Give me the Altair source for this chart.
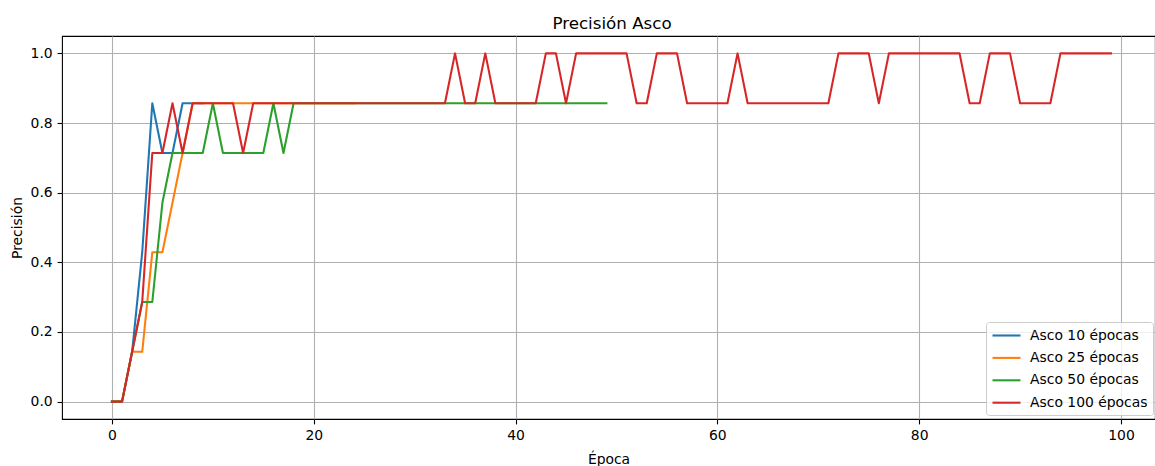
import altair as alt
import pandas as pd

series_names = ["Asco 10 épocas", "Asco 25 épocas", "Asco 50 épocas", "Asco 100 épocas"]
series_colors = ["#1f77b4", "#ff7f0e", "#2ca02c", "#d62728"]

acc_10 = [0.0, 0.0, 0.143, 0.429, 0.857, 0.714, 0.714, 0.857, 0.857, 0.857]

acc_25 = [0.0, 0.0, 0.143, 0.143, 0.429, 0.429, 0.571, 0.714, 0.857, 0.857,
          0.857, 0.857, 0.857, 0.857, 0.857, 0.857, 0.857, 0.857, 0.857, 0.857,
          0.857, 0.857, 0.857, 0.857, 0.857]

acc_50 = [0.0, 0.0, 0.143, 0.286, 0.286, 0.571, 0.714, 0.714, 0.714, 0.714,
          0.857, 0.714, 0.714, 0.714, 0.714, 0.714, 0.857, 0.714, 0.857, 0.857,
          0.857, 0.857, 0.857, 0.857, 0.857, 0.857, 0.857, 0.857, 0.857, 0.857,
          0.857, 0.857, 0.857, 0.857, 0.857, 0.857, 0.857, 0.857, 0.857, 0.857,
          0.857, 0.857, 0.857, 0.857, 0.857, 0.857, 0.857, 0.857, 0.857, 0.857]

acc_100 = [0.0, 0.0, 0.143, 0.286, 0.714, 0.714, 0.857, 0.714, 0.857, 0.857,
           0.857, 0.857, 0.857, 0.714, 0.857, 0.857, 0.857, 0.857, 0.857, 0.857,
           0.857, 0.857, 0.857, 0.857, 0.857, 0.857, 0.857, 0.857, 0.857, 0.857,
           0.857, 0.857, 0.857, 0.857, 1.0, 0.857, 0.857, 1.0, 0.857, 0.857,
           0.857, 0.857, 0.857, 1.0, 1.0, 0.857, 1.0, 1.0, 1.0, 1.0,
           1.0, 1.0, 0.857, 0.857, 1.0, 1.0, 1.0, 0.857, 0.857, 0.857,
           0.857, 0.857, 1.0, 0.857, 0.857, 0.857, 0.857, 0.857, 0.857, 0.857,
           0.857, 0.857, 1.0, 1.0, 1.0, 1.0, 0.857, 1.0, 1.0, 1.0,
           1.0, 1.0, 1.0, 1.0, 1.0, 0.857, 0.857, 1.0, 1.0, 1.0,
           0.857, 0.857, 0.857, 0.857, 1.0, 1.0, 1.0, 1.0, 1.0, 1.0]

x_ticks = [0, 20, 40, 60, 80, 100]
y_ticks = [0.0, 0.2, 0.4, 0.6, 0.8, 1.0]

rows = []
for k, (name, vals) in enumerate(zip(series_names, [acc_10, acc_25, acc_50, acc_100])):
    for i, v in enumerate(vals):
        rows.append({"serie": name, "epoca": i, "precision": v, "orden": k})
df = pd.DataFrame(rows)

FONT = "DejaVu Sans"

chart = alt.Chart(df).mark_line(strokeWidth=2.08, strokeJoin="round", strokeCap="square").encode(
    x=alt.X("epoca:Q",
            scale=alt.Scale(domain=[-4.95, 103.37], nice=False, zero=False),
            axis=alt.Axis(values=x_ticks, title="Época", format="d")),
    y=alt.Y("precision:Q",
            scale=alt.Scale(domain=[-0.05, 1.05], nice=False, zero=False),
            axis=alt.Axis(values=y_ticks, title="Precisión", format=".1f")),
    color=alt.Color("serie:N",
                    scale=alt.Scale(domain=series_names, range=series_colors),
                    legend=alt.Legend(title=None, orient="none", legendX=924, legendY=286,
                                      padding=5, rowPadding=6.4,
                                      symbolType="M-1,0L3,0", symbolSize=196,
                                      symbolStrokeWidth=2.08, labelOffset=22,
                                      labelFont=FONT, labelFontSize=13.9, labelColor="black",
                                      fillColor="rgba(255,255,255,0.8)", strokeColor="#cccccc",
                                      cornerRadius=3)),
    order=alt.Order("epoca:Q"),
    detail="orden:O",
).properties(
    width=1093,
    height=383,
    padding={"left": 62, "top": 36, "right": 0, "bottom": 47},
    autosize=alt.AutoSizeParams(type="none"),
    title=alt.TitleParams("Precisión Asco", font=FONT, fontSize=16.7, fontWeight="normal",
                          color="black", anchor="middle", dx=3.5, dy=18, offset=8,
                          baseline="alphabetic"),
).configure_view(
    stroke="black", strokeWidth=1.1
).configure_axis(
    domain=False,
    grid=True, gridColor="#b0b0b0", gridWidth=1.1,
    ticks=True, tickColor="black", tickSize=4.9, tickWidth=1.1,
    labelFont=FONT, labelFontSize=13.9, labelColor="black", labelPadding=4.9,
    titleFont=FONT, titleFontSize=13.9, titleColor="black", titleFontWeight="normal",
).configure_axisX(
    titlePadding=10
).configure_axisY(
    titlePadding=6
)

chart.save("out.html", embed_options={"renderer": "svg", "actions": False})
